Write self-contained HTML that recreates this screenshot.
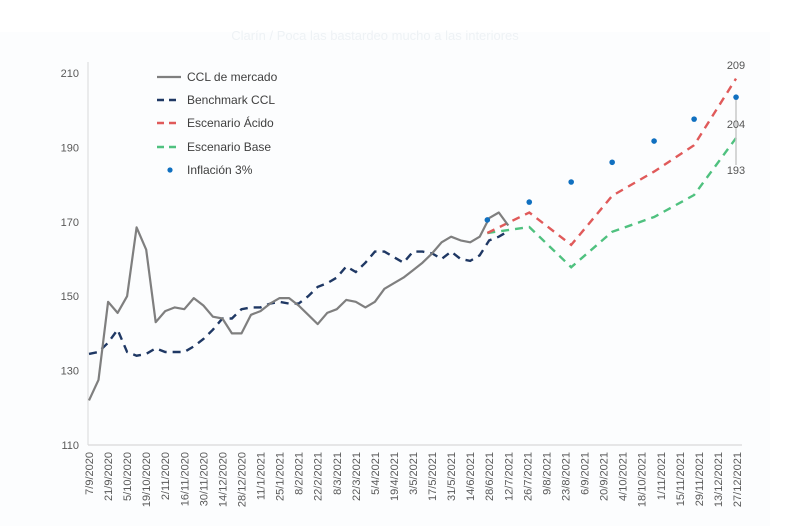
<!DOCTYPE html>
<html><head><meta charset="utf-8"><style>
html,body{margin:0;padding:0;background:#fff;}
svg{display:block;font-family:"Liberation Sans",sans-serif;}
</style></head><body>
<svg width="800" height="526" viewBox="0 0 800 526">
<rect x="0" y="0" width="800" height="526" fill="#fff"/>
<rect x="0" y="32" width="770" height="494" fill="#fcfdfe"/>
<text x="375" y="40" text-anchor="middle" font-size="13" fill="#eef2f5">Clarín / Poca las bastardeo mucho a las interiores</text>
<g id="axes"></g>
<g id="series"></g>
<g id="legend">
 <line x1="157" y1="77" x2="181" y2="77" stroke="#7f7f7f" stroke-width="2.2"/>
 <text x="187" y="81" font-size="12" fill="#404040">CCL de mercado</text>
 <line x1="157" y1="100" x2="181" y2="100" stroke="#1f3864" stroke-width="2.5" stroke-dasharray="7,5"/>
 <text x="187" y="104" font-size="12" fill="#404040">Benchmark CCL</text>
 <line x1="157" y1="123" x2="181" y2="123" stroke="#e05a5a" stroke-width="2.5" stroke-dasharray="7,5"/>
 <text x="187" y="127" font-size="12" fill="#404040">Escenario Ácido</text>
 <line x1="157" y1="147" x2="181" y2="147" stroke="#4fc17f" stroke-width="2.5" stroke-dasharray="7,5"/>
 <text x="187" y="151" font-size="12" fill="#404040">Escenario Base</text>
 <circle cx="170" cy="170" r="2.6" fill="#1070c0"/>
 <text x="187" y="174" font-size="12" fill="#404040">Inflación 3%</text>
</g>
<line x1="736" y1="100" x2="736" y2="165" stroke="#c8c8c8" stroke-width="1.5"/>
<text x="736" y="69" text-anchor="middle" font-size="11" fill="#555">209</text>
<text x="736" y="128" text-anchor="middle" font-size="11" fill="#555">204</text>
<text x="736" y="174" text-anchor="middle" font-size="11" fill="#555">193</text>
</svg>
<script>
const xLabels=["7/9/2020","21/9/2020","5/10/2020","19/10/2020","2/11/2020","16/11/2020","30/11/2020","14/12/2020","28/12/2020","11/1/2021","25/1/2021","8/2/2021","22/2/2021","8/3/2021","22/3/2021","5/4/2021","19/4/2021","3/5/2021","17/5/2021","31/5/2021","14/6/2021","28/6/2021","12/7/2021","26/7/2021","9/8/2021","23/8/2021","6/9/2021","20/9/2021","4/10/2021","18/10/2021","1/11/2021","15/11/2021","29/11/2021","13/12/2021","27/12/2021"];
const yTicks=[110,130,150,170,190,210];
const cclValues=[122,127.5,148.5,145.5,150,168.5,162.5,143,146,147,146.5,149.5,147.5,144.5,144,140,140,145,146,148,149.5,149.5,147.5,145,142.5,145.5,146.5,149,148.5,147,148.5,152,153.5,155,157,159,161.5,164.5,166,165,164.5,166,171,172.5,169];
const benchmarkValues=[134.5,135,137.5,141,135,134,134.5,136,135,135,135,136.5,138.5,141,144,144,146.5,147,147,148,148.5,148,148,150,152.5,153.5,155,158,156.5,159,162,162,160.5,159,162,162,161.5,160,162,160,159.5,161,165,166,167.5];
const scenarioWeeks=[41.8,46.2,50.6,54.9,59.3,63.5,67.9];
const acidoValues=[167,172.5,163.8,177,183.5,190.6,208.5];
const baseValues=[167,168.6,157.8,167.3,171.3,177.2,192.5];
const inflacionValues=[170.5,175.3,180.7,186,191.7,197.6,203.5];

const NS="http://www.w3.org/2000/svg";
const X0=89,WEEK=(737-89)/68;
const xw=w=>X0+w*WEEK;
const yv=v=>445-(v-110)*3.72;
const axes=document.getElementById('axes'),series=document.getElementById('series');
function mk(tag,attrs,parent){const e=document.createElementNS(NS,tag);for(const k in attrs)e.setAttribute(k,attrs[k]);parent.appendChild(e);return e;}

let e=mk('line',{x1:X0-1,y1:62,x2:X0-1,y2:445,stroke:'#d9d9d9','stroke-width':1},axes);


e=mk('line',{x1:X0-1,y1:445,x2:742,y2:445,stroke:'#d9d9d9','stroke-width':1.2},axes);


yTicks.forEach(v=>{
 const t=mk('text',{x:79,y:yv(v)+4,'text-anchor':'end','font-size':11,fill:'#595959'},axes);
 t.textContent=v;
 
 
});
xLabels.forEach((l,i)=>{
 const x=xw(i*2);
 const t=mk('text',{x:0,y:0,transform:`translate(${x+4},452) rotate(-90)`,'text-anchor':'end','font-size':11,fill:'#595959'},axes);
 t.textContent=l;
 
 
});
function pathFrom(ws,vs){return ws.map((w,i)=>(i?'L':'M')+xw(w).toFixed(1)+','+yv(vs[i]).toFixed(1)).join(' ');}
const wk=cclValues.map((_,i)=>i);
e=mk('path',{d:pathFrom(scenarioWeeks,baseValues),fill:'none',stroke:'#4fc17f','stroke-width':2.4,'stroke-dasharray':'8,6'},series);


e=mk('path',{d:pathFrom(scenarioWeeks,acidoValues),fill:'none',stroke:'#e05a5a','stroke-width':2.4,'stroke-dasharray':'8,6'},series);


e=mk('path',{d:pathFrom(wk,benchmarkValues),fill:'none',stroke:'#1f3864','stroke-width':2.4,'stroke-dasharray':'8,6'},series);


e=mk('path',{d:pathFrom(wk,cclValues),fill:'none',stroke:'#7f7f7f','stroke-width':2.2,'stroke-linejoin':'round'},series);


inflacionValues.forEach((v,i)=>{
 const c=mk('circle',{cx:xw(scenarioWeeks[i]),cy:yv(v),r:2.8,fill:'#1070c0'},series);
 
 
});
</script>
</body></html>
